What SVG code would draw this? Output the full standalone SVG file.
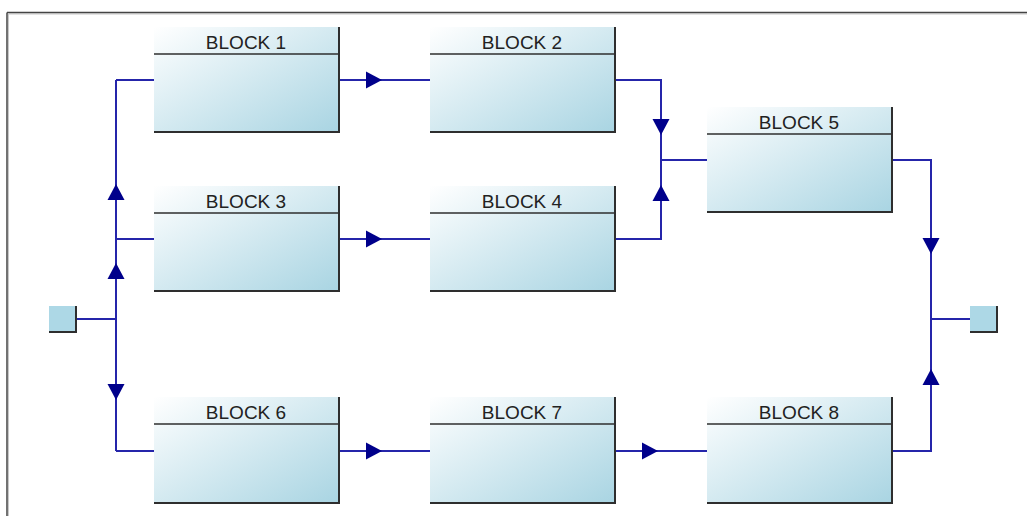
<svg xmlns="http://www.w3.org/2000/svg" width="1027" height="516" viewBox="0 0 1027 516">
  <defs>
    <linearGradient id="blockFill" x1="0" y1="0" x2="1" y2="1">
      <stop offset="0" stop-color="#ffffff"/>
      <stop offset="1" stop-color="#a8d4e2"/>
    </linearGradient>
    <!-- arrowhead pointing right, tip at origin -->
    <path id="tri" d="M0,0 L-16,-8.5 L-16,8.5 Z"/>
    <style>
      .frame { fill: none; stroke: #444; stroke-width: 1.5; }
      .frameShadow { fill: none; stroke: #c8c8c8; stroke-width: 1; }
      .body { fill: url(#blockFill); }
      .edge { fill: none; stroke: #2e2e2e; stroke-width: 2; }
      .hdr { stroke: #2e2e2e; stroke-width: 1.6; }
      .label { font-family: "Liberation Sans", Arial, sans-serif; font-size: 19px; fill: #222; text-anchor: middle; }
      .wire { fill: none; stroke: #2525aa; stroke-width: 2; }
      .head { fill: #00008b; }
      .port { fill: #add8e6; }
    </style>
  </defs>

  <rect width="1027" height="516" fill="#ffffff"/>

  <!-- outer frame -->
  <path class="frameShadow" d="M8.5,14 H1027 M8.5,14 V516"/>
  <path class="frame" d="M7,12.5 H1027 M7,12.5 V516"/>

  <!-- connectors -->
  <g id="connectors">
    <path class="wire" d="M116,80 V451 M116,80 H154 M116,239 H154 M116,451 H154 M77,319 H116"/>
    <path class="wire" d="M340,80 H430 M340,239 H430 M340,451 H430"/>
    <path class="wire" d="M616,80 H661 V239 H616 M661,160 H707"/>
    <path class="wire" d="M616,451 H707"/>
    <path class="wire" d="M892,160 H931 V451 H892 M931,319 H970"/>

    <use href="#tri" class="head" transform="translate(382,80)"/>
    <use href="#tri" class="head" transform="translate(382,239)"/>
    <use href="#tri" class="head" transform="translate(382,451)"/>
    <use href="#tri" class="head" transform="translate(658,451)"/>

    <use href="#tri" class="head" transform="translate(116,184) rotate(-90)"/>
    <use href="#tri" class="head" transform="translate(116,263) rotate(-90)"/>
    <use href="#tri" class="head" transform="translate(116,400) rotate(90)"/>

    <use href="#tri" class="head" transform="translate(661,135) rotate(90)"/>
    <use href="#tri" class="head" transform="translate(661,185) rotate(-90)"/>

    <use href="#tri" class="head" transform="translate(931,254) rotate(90)"/>
    <use href="#tri" class="head" transform="translate(931,369) rotate(-90)"/>
  </g>

  <!-- terminals -->
  <g id="input">
    <rect class="port" x="49" y="306" width="27" height="26"/>
    <path class="edge" d="M76,306 V332 H49"/>
  </g>
  <g id="output">
    <rect class="port" x="970" y="306" width="27" height="26"/>
    <path class="edge" d="M997,306 V332 H970"/>
  </g>

  <!-- blocks -->
  <g id="block1">
    <rect class="body" x="154" y="27" width="186" height="106"/>
    <line class="hdr" x1="154" y1="54" x2="340" y2="54"/>
    <path class="edge" d="M339,27 V132 H154"/>
    <text class="label" x="246" y="48.5">BLOCK 1</text>
  </g>
  <g id="block2">
    <rect class="body" x="430" y="27" width="186" height="106"/>
    <line class="hdr" x1="430" y1="54" x2="616" y2="54"/>
    <path class="edge" d="M615,27 V132 H430"/>
    <text class="label" x="522" y="48.5">BLOCK 2</text>
  </g>
  <g id="block3">
    <rect class="body" x="154" y="186" width="186" height="106"/>
    <line class="hdr" x1="154" y1="213" x2="340" y2="213"/>
    <path class="edge" d="M339,186 V291 H154"/>
    <text class="label" x="246" y="207.5">BLOCK 3</text>
  </g>
  <g id="block4">
    <rect class="body" x="430" y="186" width="186" height="106"/>
    <line class="hdr" x1="430" y1="213" x2="616" y2="213"/>
    <path class="edge" d="M615,186 V291 H430"/>
    <text class="label" x="522" y="207.5">BLOCK 4</text>
  </g>
  <g id="block5">
    <rect class="body" x="707" y="107" width="186" height="106"/>
    <line class="hdr" x1="707" y1="134" x2="893" y2="134"/>
    <path class="edge" d="M892,107 V212 H707"/>
    <text class="label" x="799" y="128.5">BLOCK 5</text>
  </g>
  <g id="block6">
    <rect class="body" x="154" y="397" width="186" height="107"/>
    <line class="hdr" x1="154" y1="424" x2="340" y2="424"/>
    <path class="edge" d="M339,397 V503 H154"/>
    <text class="label" x="246" y="418.5">BLOCK 6</text>
  </g>
  <g id="block7">
    <rect class="body" x="430" y="397" width="186" height="107"/>
    <line class="hdr" x1="430" y1="424" x2="616" y2="424"/>
    <path class="edge" d="M615,397 V503 H430"/>
    <text class="label" x="522" y="418.5">BLOCK 7</text>
  </g>
  <g id="block8">
    <rect class="body" x="707" y="397" width="186" height="107"/>
    <line class="hdr" x1="707" y1="424" x2="893" y2="424"/>
    <path class="edge" d="M892,397 V503 H707"/>
    <text class="label" x="799" y="418.5">BLOCK 8</text>
  </g>
</svg>
